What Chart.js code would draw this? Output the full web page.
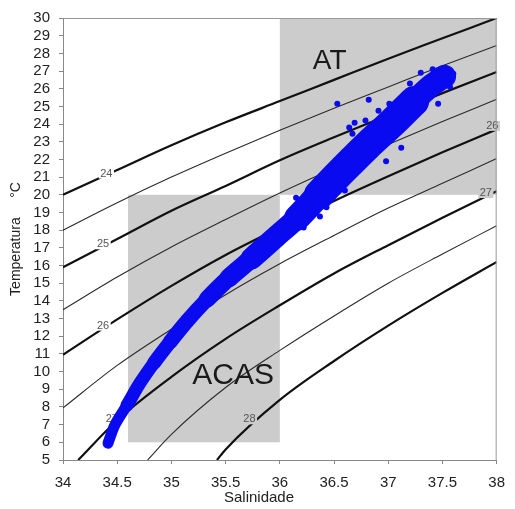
<!DOCTYPE html>
<html>
<head>
<meta charset="utf-8">
<script src="https://cdn.jsdelivr.net/npm/chart.js@4.4.1/dist/chart.umd.min.js"></script>
<style>
  html, body { margin: 0; padding: 0; background: #fff; }
  #wrap { width: 515px; height: 509px; }
</style>
</head>
<body>
<div id="wrap"><canvas id="ts"></canvas></div>
<script>
// eixos
const salTicks = [34, 34.5, 35, 35.5, 36, 36.5, 37, 37.5, 38];
const tempTicks = [5, 6, 7, 8, 9, 10, 11, 12, 13, 14, 15, 16, 17, 18, 19, 20, 21, 22, 23, 24, 25, 26, 27, 28, 29, 30];

// isopicnais (sigma-t), temperatura lida em cada salinidade
const isoValues = [24, 24.5, 25, 25.5, 26, 26.5, 27, 27.5, 28];
const salGrid = [34, 34.5, 35, 35.5, 36, 36.5, 37, 37.5, 38];
const iso24   = [20.0, 21.4, 22.8, 24.1, 25.3, 26.5, 27.7, 28.85, 30.0];
const iso24_5 = [18.0, 19.55, 21.0, 22.35, 23.65, 24.9, 26.1, 27.3, 28.45];
const iso25   = [15.9, 17.5, 19.1, 20.5, 21.95, 23.25, 24.5, 25.75, 26.95];
const iso25_5 = [13.5, 15.35, 17.05, 18.6, 20.1, 21.5, 22.85, 24.15, 25.4];
const iso26   = [10.95, 12.95, 14.85, 16.6, 18.15, 19.65, 21.05, 22.4, 23.7];
const iso26_5 = [7.95, 10.35, 12.4, 14.35, 16.1, 17.7, 19.25, 20.65, 22.05];
const sal27   = [34.14, 34.5, 35, 35.5, 36, 36.5, 37, 37.5, 38];
const iso27   = [5, 7.25, 9.7, 11.85, 13.75, 15.55, 17.15, 18.7, 20.2];
const sal27_5 = [34.78, 35, 35.5, 36, 36.5, 37, 37.5, 38];
const iso27_5 = [5, 6.45, 9.1, 11.2, 13.15, 15.0, 16.65, 18.25];
const sal28   = [35.42, 35.5, 36, 36.5, 37, 37.5, 38];
const iso28   = [5, 5.6, 8.4, 10.6, 12.6, 14.45, 16.2];

// rotulos das isopicnais
const isoLabelText = ['24', '25', '26', '27', '28', '26', '27'];
const isoLabelSal  = [34.40, 34.37, 34.37, 34.45, 35.72, 37.96, 37.90];
const isoLabelTemp = [21.2, 17.2, 12.6, 7.3, 7.3, 23.9, 20.1];

// massas d'agua: [salMin, salMax, tempMin, tempMax]
const atBox   = [36, 38, 20, 30];
const acasBox = [34.6, 36, 6, 20];

// nuvem de dados (CTD): eixo central da nuvem
const bandSal  = [34.415, 34.48, 34.59, 34.71, 34.84, 34.99, 35.15, 35.33, 35.53, 35.74, 35.96, 36.16, 36.36, 36.58, 36.81, 37.04, 37.24, 37.40, 37.52];
const bandTemp = [5.95, 7.0, 8.1, 9.35, 10.5, 11.7, 12.9, 14.1, 15.3, 16.4, 17.6, 18.7, 20.0, 21.4, 22.8, 24.1, 25.3, 26.2, 26.7];
// pontos soltos e bordas irregulares
const outSal  = [36.53, 36.82, 37.01, 36.91, 37.12, 37.46, 36.60, 36.15, 36.22, 36.37, 35.87, 36.64, 36.69, 36.67, 36.74, 36.79, 37.41, 37.60, 37.30, 37.20, 37.57, 36.98, 36.43];
const outTemp = [25.15, 25.37, 25.15, 24.75, 22.66, 25.15, 20.24, 19.84, 18.15, 18.77, 16.7, 23.8, 24.07, 23.45, 23.17, 24.2, 27.1, 26.84, 26.9, 26.3, 26.1, 21.9, 19.3];

const FONT = "'Liberation Sans', Arial, sans-serif";
const BLUE = '#0a0af0';

const pares = (xs, ys) => xs.map((s, i) => ({ x: s, y: ys[i] }));

const isoCurves = [
    [salGrid, iso24], [salGrid, iso24_5], [salGrid, iso25], [salGrid, iso25_5],
    [salGrid, iso26], [salGrid, iso26_5], [sal27, iso27], [sal27_5, iso27_5], [sal28, iso28]
];

const isoSets = isoCurves.map((c, i) => {
    const grossa = Number.isInteger(isoValues[i]);
    return {
        label: 'sigma ' + isoValues[i],
        data: pares(c[0], c[1]),
        showLine: true,
        pointRadius: 0,
        borderColor: grossa ? '#111' : '#2a2a2a',
        borderWidth: grossa ? 2.2 : 1.1,
        cubicInterpolationMode: 'monotone',
        order: 1
    };
});

// espessura da nuvem cresce com a temperatura
function larguraNuvem(t) {
    if (t < 8) return 11;
    if (t < 10) return 13;
    if (t < 12) return 14;
    if (t < 14) return 15;
    if (t < 15.5) return 17;
    if (t < 17) return 19;
    if (t < 18.5) return 22;
    if (t < 20) return 26;
    if (t < 25.5) return 30;
    return 23;
}

const bandSet = {
    data: pares(bandSal, bandTemp),
    showLine: true,
    pointRadius: 0,
    borderColor: BLUE,
    borderWidth: 12,
    borderCapStyle: 'round',
    borderJoinStyle: 'round',
    tension: 0.3,
    segment: {
        borderWidth: ctx => larguraNuvem((bandTemp[ctx.p0DataIndex] + bandTemp[ctx.p1DataIndex]) / 2)
    },
    order: 0
};

const outSet = {
    data: pares(outSal, outTemp),
    pointRadius: 3,
    pointBackgroundColor: BLUE,
    pointBorderWidth: 0,
    order: 0
};

const dentro = (s, t, b) => s >= b[0] && s <= b[1] && t >= b[2] && t <= b[3];

const tsDecor = {
    id: 'tsDecor',
    beforeDatasetsDraw(chart) {
        const { ctx, chartArea: a, scales: { x, y } } = chart;
        ctx.save();
        ctx.beginPath();
        ctx.rect(a.left, a.top, a.right - a.left, a.bottom - a.top);
        ctx.clip();
        ctx.fillStyle = '#cccccc';
        [atBox, acasBox].forEach(b => {
            const x0 = x.getPixelForValue(b[0]), x1 = x.getPixelForValue(b[1]);
            const y0 = y.getPixelForValue(b[3]), y1 = y.getPixelForValue(b[2]);
            ctx.fillRect(x0, y0, x1 - x0, y1 - y0);
        });
        ctx.restore();
    },
    afterDatasetDraw(chart, args) {
        // depois da ultima isopicnal e antes da nuvem azul
        if (args.index !== 0) return;
        const { ctx, scales: { x, y } } = chart;
        ctx.save();
        ctx.font = '11px ' + FONT;
        ctx.textAlign = 'center';
        ctx.textBaseline = 'middle';
        isoLabelText.forEach((txt, i) => {
            const s = isoLabelSal[i], t = isoLabelTemp[i];
            const px = x.getPixelForValue(s), py = y.getPixelForValue(t);
            const w = ctx.measureText(txt).width + 3;
            ctx.fillStyle = (dentro(s, t, atBox) || dentro(s, t, acasBox)) ? '#cccccc' : '#ffffff';
            ctx.fillRect(px - w / 2, py - 5, w, 10);
            ctx.fillStyle = '#555';
            ctx.fillText(txt, px, py);
        });
        ctx.restore();
    },
    afterDatasetsDraw(chart) {
        const { ctx, chartArea: a, scales: { x, y } } = chart;
        ctx.save();
        ctx.strokeStyle = '#999';
        ctx.lineWidth = 1;
        ctx.beginPath();
        ctx.moveTo(a.left, a.top + 0.5);
        ctx.lineTo(a.right - 0.5, a.top + 0.5);
        ctx.lineTo(a.right - 0.5, a.bottom);
        ctx.stroke();

        ctx.fillStyle = '#1a1a1a';
        ctx.textAlign = 'center';
        ctx.textBaseline = 'middle';
        ctx.font = '28px ' + FONT;
        ctx.fillText('AT', x.getPixelForValue(36.46), y.getPixelForValue(27.57));
        ctx.font = '30px ' + FONT;
        ctx.fillText('ACAS', x.getPixelForValue(35.57), y.getPixelForValue(9.74));
        ctx.restore();
    }
};

new Chart(document.getElementById('ts'), {
    type: 'scatter',
    data: { datasets: [...isoSets, bandSet, outSet] },
    options: {
        responsive: true,
        maintainAspectRatio: false,
        animation: false,
        events: [],
        layout: { padding: { top: 17, right: 10, left: 0, bottom: 0 } },
        plugins: { legend: { display: false }, tooltip: { enabled: false } },
        scales: {
            x: {
                type: 'linear',
                min: 34, max: 38,
                afterFit: s => { s.height = 49; },
                afterBuildTicks: s => { s.ticks = salTicks.map(v => ({ value: v })); },
                ticks: { autoSkip: false, maxRotation: 0, padding: 10, color: '#222', font: { family: FONT, size: 15 },
                         callback: v => String(v) },
                grid: { drawOnChartArea: false, tickLength: 4, tickColor: '#888' },
                border: { color: '#888' },
                title: { display: true, text: 'Salinidade          ', color: '#222',
                         font: { family: FONT, size: 15 }, padding: { top: 0, bottom: 2 } }
            },
            y: {
                type: 'linear',
                min: 5, max: 30,
                afterFit: s => { s.width = 63; },
                afterBuildTicks: s => { s.ticks = tempTicks.map(v => ({ value: v })); },
                ticks: { autoSkip: false, padding: 9, color: '#222', font: { family: FONT, size: 15 } },
                grid: { drawOnChartArea: false, tickLength: 4, tickColor: '#888' },
                border: { color: '#888' },
                title: { display: true, text: 'Temperatura     °C', color: '#222',
                         font: { family: FONT, size: 14 }, padding: { top: 8, bottom: 0 } }
            }
        }
    },
    plugins: [tsDecor]
});
</script>
</body>
</html>
